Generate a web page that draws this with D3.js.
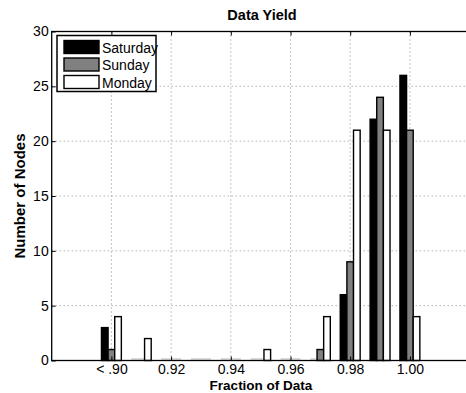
<!DOCTYPE html>
<html>
<head>
<meta charset="utf-8">
<script src="https://cdn.jsdelivr.net/npm/d3@7"></script>
<style>
  body { margin: 0; background: #fff; }
  text { font-family: "Liberation Sans", Arial, Helvetica, sans-serif; }
</style>
</head>
<body>
<div id="chart"></div>
<script>
// bin centres (fraction of data), one group of bars per bin
const bins = [0.90, 0.91, 0.92, 0.93, 0.94, 0.95, 0.96, 0.97, 0.98, 0.99, 1.00];
const days = ['Saturday', 'Sunday', 'Monday'];
const saturday = [3, 0, 0, 0, 0, 0, 0, 0, 6, 22, 26];
const sunday   = [1, 0, 0, 0, 0, 0, 0, 1, 9, 24, 21];
const monday   = [4, 2, 0, 0, 0, 1, 0, 4, 21, 21, 4];
const dayColors = ['#000000', '#808080', '#ffffff'];
const xTicks = [0.90, 0.92, 0.94, 0.96, 0.98, 1.00];
const xTickLabels = ['< .90', '0.92', '0.94', '0.96', '0.98', '1.00'];
const yTicks = [0, 5, 10, 15, 20, 25, 30];

const width = 466, height = 393;
const plotLeft = 51.7, plotTop = 31.5, plotBottom = 360.5;
const plotRight = plotLeft + 7 * 59.7; // runs past the window edge, like the original

const series = [saturday, sunday, monday];

const svg = d3.select('#chart').append('svg')
  .attr('width', width)
  .attr('height', height);

const x = d3.scaleLinear().domain([0.88, 1.02]).range([plotLeft, plotRight]);
const y = d3.scaleLinear().domain([0, 30]).range([plotBottom, plotTop]);

// grouped bars take 2/3 of a bin, split evenly between the days
const groupW = x(0.01 * 2 / 3) - x(0);
const xInner = d3.scaleBand().domain(days).range([-groupW / 2, groupW / 2]);

// dotted grid
const grid = svg.append('g');
grid.selectAll('.vgrid')
  .data(xTicks)
  .enter().append('line')
  .attr('x1', d => x(d)).attr('x2', d => x(d))
  .attr('y1', plotTop).attr('y2', plotBottom)
  .attr('stroke', '#8a8a8a')
  .attr('stroke-width', 1)
  .attr('stroke-dasharray', '1,3');
grid.selectAll('.hgrid')
  .data(yTicks.filter(d => d > 0 && d < 30))
  .enter().append('line')
  .attr('x1', plotLeft).attr('x2', plotRight)
  .attr('y1', d => y(d)).attr('y2', d => y(d))
  .attr('stroke', '#8a8a8a')
  .attr('stroke-width', 1)
  .attr('stroke-dasharray', '1,3');

// bars
days.forEach((day, i) => {
  const rows = bins.map((b, j) => ({ bin: b, value: series[i][j] }));
  const g = svg.append('g');
  g.selectAll('rect')
    .data(rows.filter(d => d.value > 0))
    .enter().append('rect')
    .attr('x', d => x(d.bin) + xInner(day))
    .attr('width', xInner.bandwidth())
    .attr('y', d => y(d.value))
    .attr('height', d => y(0) - y(d.value))
    .attr('fill', dayColors[i])
    .attr('stroke', '#000')
    .attr('stroke-width', 1.4);
  // empty bins still leave a faint flat outline on the baseline
  g.selectAll('line')
    .data(rows.filter(d => d.value === 0 && d.bin > 0.90))
    .enter().append('line')
    .attr('x1', d => x(d.bin) + xInner(day))
    .attr('x2', d => x(d.bin) + xInner(day) + xInner.bandwidth())
    .attr('y1', y(0) - 1.5).attr('y2', y(0) - 1.5)
    .attr('stroke', '#b5b5b5')
    .attr('stroke-width', 1);
});

// axes box
svg.append('rect')
  .attr('x', plotLeft).attr('y', plotTop)
  .attr('width', plotRight - plotLeft).attr('height', plotBottom - plotTop)
  .attr('fill', 'none')
  .attr('stroke', '#000')
  .attr('stroke-width', 1.3);

const xAxis = d3.axisBottom(x)
  .tickValues(xTicks)
  .tickSize(-4)
  .tickPadding(4)
  .tickFormat((d, i) => xTickLabels[i]);
const gx = svg.append('g')
  .attr('transform', `translate(0,${plotBottom})`)
  .call(xAxis);
gx.select('.domain').remove();
gx.selectAll('text').attr('font-size', 14).attr('fill', '#000')
  .attr('font-family', '"Liberation Sans", Arial, sans-serif');

const gxTop = svg.append('g')
  .attr('transform', `translate(0,${plotTop})`)
  .call(d3.axisTop(x).tickValues(xTicks).tickSize(-4).tickFormat(''));
gxTop.select('.domain').remove();

const yAxis = d3.axisLeft(y)
  .tickValues(yTicks)
  .tickSize(-4)
  .tickPadding(3);
const gy = svg.append('g')
  .attr('transform', `translate(${plotLeft},0)`)
  .call(yAxis);
gy.select('.domain').remove();
gy.selectAll('text').attr('font-size', 14).attr('fill', '#000')
  .attr('font-family', '"Liberation Sans", Arial, sans-serif');

// titles
svg.append('text')
  .attr('x', 262).attr('y', 20)
  .attr('text-anchor', 'middle')
  .attr('font-size', 14.5).attr('font-weight', 'bold')
  .text('Data Yield');

svg.append('text')
  .attr('x', 261).attr('y', 390)
  .attr('text-anchor', 'middle')
  .attr('font-size', 13.5).attr('font-weight', 'bold')
  .text('Fraction of Data');

svg.append('text')
  .attr('transform', `translate(25,${(plotTop + plotBottom) / 2}) rotate(-90)`)
  .attr('text-anchor', 'middle')
  .attr('font-size', 15).attr('font-weight', 'bold')
  .text('Number of Nodes');

// legend
const legend = svg.append('g');
legend.append('rect')
  .attr('x', 57).attr('y', 35.5)
  .attr('width', 99).attr('height', 56)
  .attr('fill', '#fff')
  .attr('stroke', '#000')
  .attr('stroke-width', 1.5);
days.forEach((day, i) => {
  const ry = 40.5 + i * 17.5;
  legend.append('rect')
    .attr('x', 64).attr('y', ry)
    .attr('width', 35).attr('height', 13)
    .attr('fill', dayColors[i])
    .attr('stroke', '#000')
    .attr('stroke-width', 1.4);
  legend.append('text')
    .attr('x', 102).attr('y', ry + 12)
    .attr('font-size', 14)
    .text(day);
});
</script>
</body>
</html>
